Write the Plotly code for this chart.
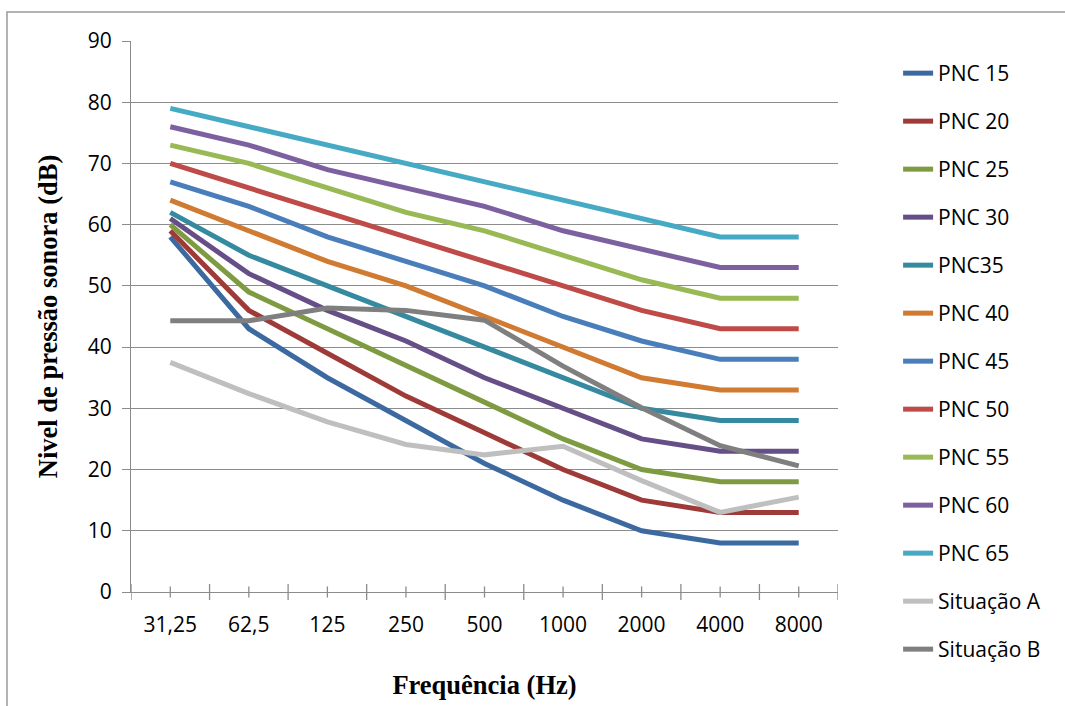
import plotly.graph_objects as go

categories = ["31,25", "62,5", "125", "250", "500", "1000", "2000", "4000", "8000"]

pnc15 = [58, 43, 35, 28, 21, 15, 10, 8, 8]
pnc20 = [59, 46, 39, 32, 26, 20, 15, 13, 13]
pnc25 = [60, 49, 43, 37, 31, 25, 20, 18, 18]
pnc30 = [61, 52, 46, 41, 35, 30, 25, 23, 23]
pnc35 = [62, 55, 50, 45, 40, 35, 30, 28, 28]
pnc40 = [64, 59, 54, 50, 45, 40, 35, 33, 33]
pnc45 = [67, 63, 58, 54, 50, 45, 41, 38, 38]
pnc50 = [70, 66, 62, 58, 54, 50, 46, 43, 43]
pnc55 = [73, 70, 66, 62, 59, 55, 51, 48, 48]
pnc60 = [76, 73, 69, 66, 63, 59, 56, 53, 53]
pnc65 = [79, 76, 73, 70, 67, 64, 61, 58, 58]
situacao_a = [37.5, 32.4, 27.8, 24.1, 22.4, 23.8, 18.2, 13.0, 15.5]
situacao_b = [44.3, 44.3, 46.4, 46.0, 44.4, 36.9, 30.1, 23.9, 20.6]

series_names = ["PNC 15", "PNC 20", "PNC 25", "PNC 30", "PNC35", "PNC 40", "PNC 45",
                "PNC 50", "PNC 55", "PNC 60", "PNC 65", "Situação A", "Situação B"]
series_values = [pnc15, pnc20, pnc25, pnc30, pnc35, pnc40, pnc45, pnc50, pnc55,
                 pnc60, pnc65, situacao_a, situacao_b]
series_colors = ["#3C6AA0", "#9E3B38", "#7F9B41", "#664E86", "#358A9F", "#D07A32",
                 "#4A7EBB", "#BE4B48", "#98B954", "#7D60A0", "#46AAC5", "#BFBFBF", "#7F7F7F"]

fig = go.Figure()
for i, (name, vals, col) in enumerate(zip(series_names, series_values, series_colors)):
    fig.add_trace(go.Scatter(
        x=categories, y=vals, name=name, mode="lines",
        line=dict(color=col, width=5),
        legendgroup=f"g{i}",
    ))

grid = "#8C8C8C"
font_main = "Open Sans"

# crossing tick marks on x axis (category centers and boundaries)
tick_shapes = []
for k in range(len(categories) * 2 + 1):
    pos = -0.5 + k * 0.5
    half = 0.0145 if k % 2 == 0 else 0.010
    tick_shapes.append(dict(type="line", xref="x", yref="paper", x0=pos, x1=pos,
                            y0=-half, y1=half, line=dict(color=grid, width=1.3)))

# outer chart border
tick_shapes.append(dict(type="rect", xref="paper", yref="paper",
                        x0=-0.1754, x1=1.5, y0=-0.4, y1=1.0526,
                        line=dict(color="#9A9A9A", width=1.5), layer="below"))

fig.update_layout(
    width=1065, height=706,
    margin=dict(l=131, r=227, t=41, b=114, autoexpand=False),
    paper_bgcolor="white", plot_bgcolor="white",
    font=dict(family=font_main, size=21, color="black"),
    showlegend=True,
    legend=dict(
        x=1.085, y=1 - 53 / 706, xanchor="left", yanchor="top",
        yref="container",
        maxheight=1.0,
        font=dict(family=font_main, size=21, color="black"),
        tracegroupgap=17.7, itemwidth=30,
        bgcolor="rgba(0,0,0,0)",
    ),
    xaxis=dict(
        type="category", range=[-0.5, 8.5],
        showgrid=False, showline=True, linecolor=grid, linewidth=1.3,
        ticks="", tickfont=dict(family=font_main, size=21),
        ticklabelstandoff=14,
        title=dict(text="<b>Frequência (Hz)</b>",
                   font=dict(family="Liberation Serif", size=26.5), standoff=38),
        zeroline=False,
    ),
    yaxis=dict(
        range=[0, 90], dtick=10,
        showgrid=True, gridcolor=grid, gridwidth=1.3,
        showline=True, linecolor=grid, linewidth=1.3,
        ticks="outside", ticklen=8, tickcolor=grid, tickwidth=1.3,
        tickfont=dict(family=font_main, size=21),
        ticklabelstandoff=6,
        title=dict(text="<b>Nivel de pressão sonora (dB)</b>",
                   font=dict(family="Liberation Serif", size=26.5), standoff=22),
        zeroline=False,
    ),
    shapes=tick_shapes,
)

fig.write_html("out.html")
